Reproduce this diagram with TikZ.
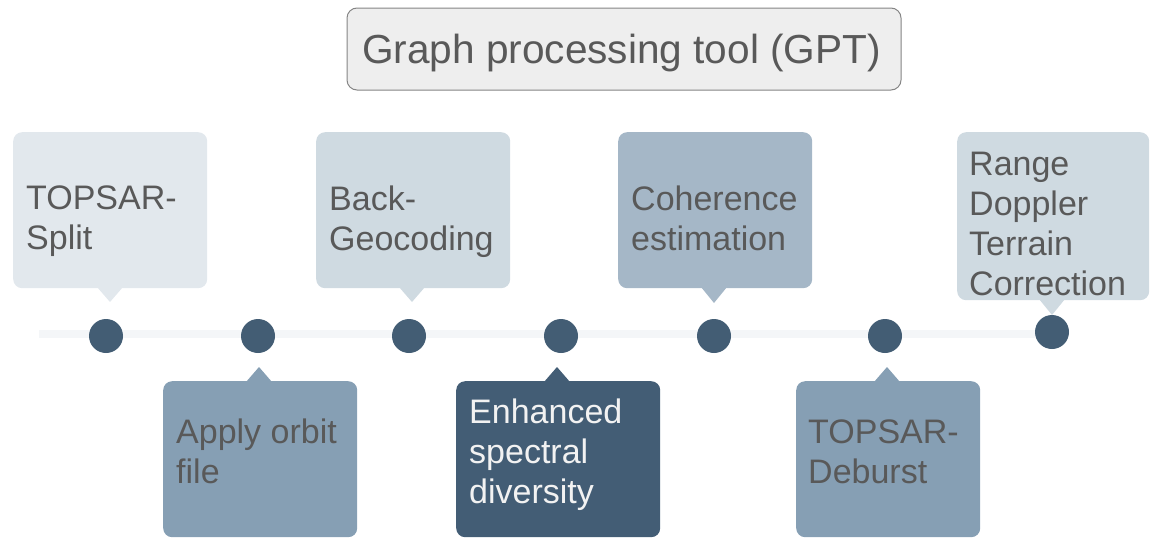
\documentclass[tikz,border=0pt]{standalone}
\usepackage{fontspec}
\setmainfont{Liberation Sans}
\definecolor{txtgray}{HTML}{595959}
\definecolor{txtlight}{HTML}{F2F2F2}
\definecolor{titlefill}{HTML}{EEEEEE}
\definecolor{titleline}{HTML}{858585}
\definecolor{railgray}{HTML}{F4F6F8}
\definecolor{dotblue}{HTML}{435D74}
\definecolor{paleA}{HTML}{E2E8ED}
\definecolor{paleB}{HTML}{CFDAE1}
\definecolor{midA}{HTML}{A5B7C7}
\definecolor{midB}{HTML}{869FB4}
\definecolor{deep}{HTML}{435D75}
\begin{document}
\begin{tikzpicture}[x=1pt,y=-1pt,
  card/.style={rounded corners=9pt, inner sep=0pt, anchor=north west},
  lbl/.style={font=\fontsize{34}{40}\selectfont, align=left, inner sep=0pt,
    anchor=north west, text=txtgray},
  dot/.style={circle, fill=dotblue, minimum size=34pt, inner sep=0pt},
  rail/.style={line width=8pt, railgray}]
\useasboundingbox (0,0) rectangle (1153,541);

% title
\node[draw=titleline, line width=1pt, fill=titlefill, rounded corners=10pt,
  minimum width=554pt, minimum height=82pt, inner sep=0pt] (title) at (624,49) {};
\node[font=\fontsize{40.6}{48}\selectfont, text=txtgray, anchor=base, inner sep=0pt]
  (ttl) at (621.5,63) {Graph processing tool (GPT)};

% timeline rail
\coordinate (railL) at (39,334);
\coordinate (railR) at (1056,334);
\draw[rail] (railL) -- (railR);

% upper cards
\node[card, fill=paleA, minimum width=194pt, minimum height=156pt] (b1) at (13,132) {};
\node[card, fill=paleB, minimum width=194pt, minimum height=156pt] (b2) at (316,132) {};
\node[card, fill=midA,  minimum width=194pt, minimum height=156pt] (b3) at (618,132) {};
\node[card, fill=paleB, minimum width=192pt, minimum height=168pt] (b4) at (957,132) {};

% lower cards
\node[card, fill=midB, minimum width=194pt, minimum height=156pt] (b5) at (163,381) {};
\node[card, fill=deep, minimum width=204pt, minimum height=156pt] (b6) at (456,381) {};
\node[card, fill=midB, minimum width=184pt, minimum height=156pt] (b7) at (796,381) {};

% pointer tips
\coordinate (p1) at (110,302);
\coordinate (p2) at (412,302);
\coordinate (p3) at (714,303);
\coordinate (p4) at (1052,315);
\coordinate (p5) at (259,367);
\coordinate (p6) at (557,367);
\coordinate (p7) at (887,367);
\fill[paleA] (p1) -- ++(-13,-15) -- ++(26,0) -- cycle;
\fill[paleB] (p2) -- ++(-13,-15) -- ++(26,0) -- cycle;
\fill[midA]  (p3) -- ++(-13,-16) -- ++(26,0) -- cycle;
\fill[paleB] (p4) -- ++(-13,-16) -- ++(26,0) -- cycle;
\fill[midB]  (p5) -- ++(-13,15) -- ++(26,0) -- cycle;
\fill[deep]  (p6) -- ++(-13,15) -- ++(26,0) -- cycle;
\fill[midB]  (p7) -- ++(-13,15) -- ++(26,0) -- cycle;

% card labels
\node[lbl] (l1) at (26,185.5) {TOPSAR-\\Split};
\node[lbl] (l2) at (329,185.5) {Back-\\Geocoding};
\node[lbl] (l3) at (631,185.5) {Coherence\\estimation};
\node[lbl] (l4) at (969,151.5) {Range\\Doppler\\Terrain\\Correction};
\node[lbl] (l5) at (176,418.5) {Apply orbit\\file};
\node[lbl, text=txtlight] (l6) at (469,398.5) {Enhanced\\spectral\\diversity};
\node[lbl] (l7) at (808,419.5) {TOPSAR-\\Deburst};

% timeline stops
\node[dot] (d1) at (106,336) {};
\node[dot] (d2) at (258,336) {};
\node[dot] (d3) at (409,336) {};
\node[dot] (d4) at (561,336) {};
\node[dot] (d5) at (714,336) {};
\node[dot] (d6) at (885,336) {};
\node[dot] (d7) at (1052,332) {};
\end{tikzpicture}
\end{document}
